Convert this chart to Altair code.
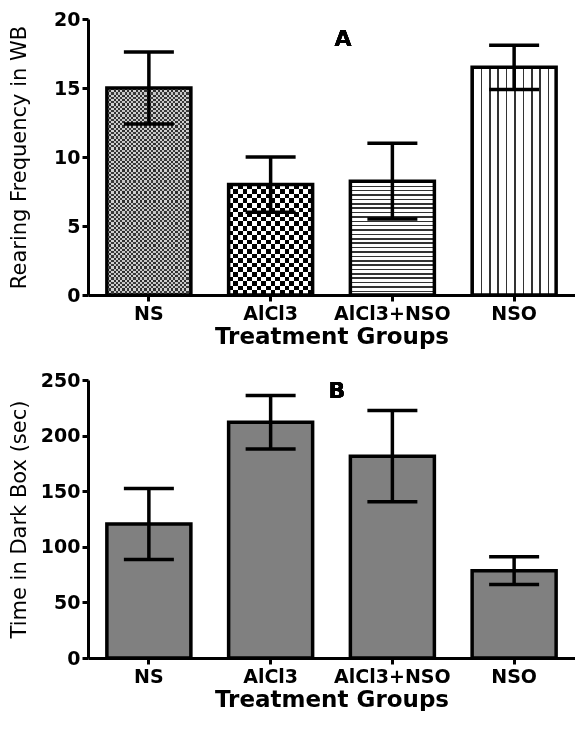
import altair as alt
import pandas as pd

# ---------------- data ----------------
groups = ["NS", "AlCl3", "AlCl3+NSO", "NSO"]
rearing_mean = [15.0, 8.0, 8.25, 16.5]
rearing_lo = [12.4, 6.0, 5.5, 14.9]
rearing_hi = [17.6, 10.0, 11.0, 18.1]
dark_mean = [120.5, 212.0, 181.5, 78.5]
dark_lo = [88.5, 188.0, 140.5, 66.0]
dark_hi = [152.5, 236.0, 222.5, 91.0]
y_ticks_a = [0, 5, 10, 15, 20]
y_ticks_b = [0, 50, 100, 150, 200, 250]

df_a = pd.DataFrame({"group": groups, "value": rearing_mean, "lo": rearing_lo, "hi": rearing_hi})
df_b = pd.DataFrame({"group": groups, "value": dark_mean, "lo": dark_lo, "hi": dark_hi})

# ---------------- style ----------------
FONT = "DejaVu Sans"
W_A, H_A = 487, 276
W_B, H_B = 487, 278
P_IN, P_OUT = 0.31, 0.155
SW = 3.5


def stripes(n, frac, dark, light, vertical_lines):
    stops = []
    for i in range(n):
        a = round(i / n, 5)
        b = round((i + frac) / n, 5)
        c = round((i + 1) / n, 5)
        stops += [
            alt.GradientStop(offset=a, color=dark),
            alt.GradientStop(offset=b, color=dark),
            alt.GradientStop(offset=b, color=light),
            alt.GradientStop(offset=c, color=light),
        ]
    if vertical_lines:
        return alt.LinearGradient(gradient="linear", stops=stops, x1=0, x2=1, y1=0, y2=0)
    return alt.LinearGradient(gradient="linear", stops=stops, x1=0, x2=0, y1=0, y2=1)


def x_enc():
    return alt.X(
        "group:N",
        sort=groups,
        scale=alt.Scale(paddingInner=P_IN, paddingOuter=P_OUT),
        title="Treatment Groups",
        axis=alt.Axis(
            labelAngle=0,
            labelFont=FONT,
            labelFontWeight="bold",
            labelFontSize=19,
            labelColor="black",
            labelPadding=3,
            titleFont=FONT,
            titleFontWeight="bold",
            titleFontSize=23,
            titleColor="black",
            titlePadding=2,
            domainColor="black",
            domainWidth=3,
            tickColor="black",
            tickWidth=3,
            tickSize=6,
        ),
    )


def y_enc(field, ymax, ticks, title, title_pad):
    return alt.Y(
        f"{field}:Q",
        scale=alt.Scale(domain=[0, ymax], nice=False),
        title=title,
        axis=alt.Axis(
            values=ticks,
            grid=False,
            labelFont=FONT,
            labelFontWeight="bold",
            labelFontSize=19,
            labelColor="black",
            labelPadding=2,
            titleFont=FONT,
            titleFontWeight="normal",
            titleFontSize=21,
            titleColor="black",
            titlePadding=title_pad,
            domainColor="black",
            domainWidth=3,
            tickColor="black",
            tickWidth=3,
            tickSize=6,
        ),
    )


def errors(df, ymax, ticks, title, tp):
    rule = alt.Chart(df).mark_rule(color="black", strokeWidth=SW, opacity=1).encode(
        x=x_enc(), y=y_enc("lo", ymax, ticks, title, tp), y2="hi:Q"
    )
    cap_lo = alt.Chart(df).mark_tick(color="black", size=50, thickness=SW, opacity=1).encode(
        x=x_enc(), y=y_enc("lo", ymax, ticks, title, tp)
    )
    cap_hi = alt.Chart(df).mark_tick(color="black", size=50, thickness=SW, opacity=1).encode(
        x=x_enc(), y=y_enc("hi", ymax, ticks, title, tp)
    )
    return [rule, cap_lo, cap_hi]


# ---------------- panel A (patterned bars) ----------------
title_a = "Rearing Frequency in WB"
TP_A = 24
bw_a = (1 - P_IN) * W_A / 4.0


def bar_h(v):
    return v / 20.0 * H_A


def filt(g):
    return alt.Chart(df_a).transform_filter(alt.datum.group == g)


ya = y_enc("value", 20, y_ticks_a, title_a, TP_A)
layers_a = []
# NS: fine checker
cell = 2.2
layers_a.append(filt("NS").mark_bar(fill=stripes(round(bw_a / (2 * cell)), 0.5, "#000000", "#ffffff", True), strokeWidth=0).encode(x=x_enc(), y=ya))
layers_a.append(filt("NS").mark_bar(fill=stripes(round(bar_h(rearing_mean[0]) / (2 * cell)), 0.5, "#3a3a3a", "#d0d0d0", False), strokeWidth=0, blend="difference").encode(x=x_enc(), y=ya))
# AlCl3: coarse checker
cell = 4.8
layers_a.append(filt("AlCl3").mark_bar(fill=stripes(round(bw_a / (2 * cell)), 0.5, "#000000", "#ffffff", True), strokeWidth=0).encode(x=x_enc(), y=ya))
layers_a.append(filt("AlCl3").mark_bar(fill=stripes(round(bar_h(rearing_mean[1]) / (2 * cell)), 0.5, "#000000", "#ffffff", False), strokeWidth=0, blend="difference").encode(x=x_enc(), y=ya))
# AlCl3+NSO: horizontal lines
layers_a.append(filt("AlCl3+NSO").mark_bar(fill=stripes(round(bar_h(rearing_mean[2]) / 4.3), 0.35, "#333333", "#ffffff", False), strokeWidth=0).encode(x=x_enc(), y=ya))
# NSO: vertical lines
layers_a.append(filt("NSO").mark_bar(fill=stripes(round(bw_a / 8.4), 0.2, "#333333", "#ffffff", True), strokeWidth=0).encode(x=x_enc(), y=ya))
# outlines
layers_a.append(alt.Chart(df_a).mark_bar(fill="white", fillOpacity=0, stroke="black", strokeWidth=SW).encode(x=x_enc(), y=ya))
layers_a += errors(df_a, 20, y_ticks_a, title_a, TP_A)
layers_a.append(
    alt.Chart(df_a).mark_text(text="A", font=FONT, fontWeight="bold", fontSize=22, color="black")
    .encode(x=alt.value(255), y=alt.value(20))
)
panel_a = alt.layer(*layers_a).properties(width=W_A, height=H_A)

# ---------------- panel B (gray bars) ----------------
title_b = "Time in Dark Box (sec)"
TP_B = 11
yb = y_enc("value", 250, y_ticks_b, title_b, TP_B)
bars_b = alt.Chart(df_b).mark_bar(fill="#808080", stroke="black", strokeWidth=SW).encode(x=x_enc(), y=yb)
layers_b = [bars_b] + errors(df_b, 250, y_ticks_b, title_b, TP_B)
layers_b.append(
    alt.Chart(df_b).mark_text(text="B", font=FONT, fontWeight="bold", fontSize=22, color="black")
    .encode(x=alt.value(249), y=alt.value(11))
)
panel_b = alt.layer(*layers_b).properties(width=W_B, height=H_B)

chart = (
    alt.vconcat(panel_a, panel_b, spacing=23)
    .properties(padding={"left": 0, "top": 2, "right": 0, "bottom": 0}, background="white")
    .configure_view(stroke="transparent", strokeWidth=0)
)

chart.save("out.html", embed_options={"renderer": "svg", "actions": False})
